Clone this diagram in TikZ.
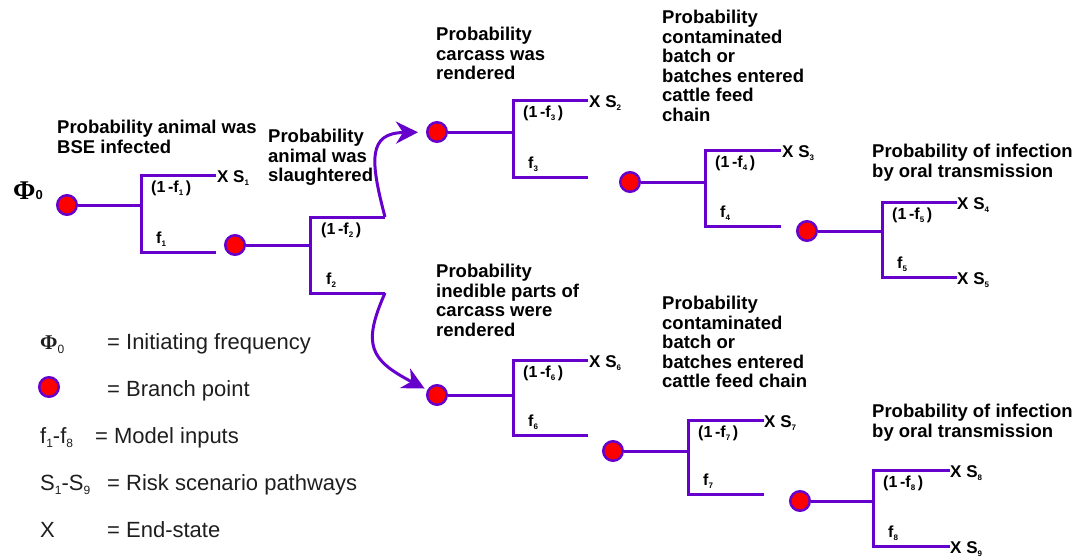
\documentclass[tikz,border=0pt]{standalone}
\usepackage{fontspec}
\setmainfont{Liberation Sans}
\newfontfamily\phifont{Liberation Serif}
\usetikzlibrary{arrows.meta}
\definecolor{branchline}{RGB}{102,0,204}
\definecolor{branchdot}{RGB}{255,0,0}
\definecolor{legendtext}{RGB}{30,30,30}

% small lowered index used in the branch labels
\newcommand{\lowidx}[2][8]{\raisebox{-0.22em}{\fontsize{#1}{#1}\selectfont #2}}

% one branching stage: dot, stem to the junction, upper and lower branch
% #1 name, #2/#3 dot position, #4 junction x, #5 upper y, #6 lower y, #7 branch end x
\newcommand{\stage}[7]{%
  \coordinate (#1-j)  at (#4,#3);
  \coordinate (#1-jt) at (#4,#5);
  \coordinate (#1-jb) at (#4,#6);
  \coordinate (#1-up) at (#7,#5);
  \coordinate (#1-lo) at (#7,#6);
  \node[bpoint] (#1) at (#2,#3) {};
  \draw[branch] (#1) -- (#1-j);
  \draw[branch] (#1-up) -- (#1-jt) -- (#1-jb) -- (#1-lo);
}

\begin{document}
\begin{tikzpicture}[x=1pt,y=-1pt,
  branch/.style={draw=branchline, line width=3pt, line join=miter, line cap=butt},
  bpoint/.style={circle, fill=branchdot, draw=branchline, line width=2.5pt,
                 minimum size=19.5pt, inner sep=0pt},
  problabel/.style={anchor=north west, align=left, inner sep=0pt,
                    font=\fontsize{18.5}{19.5}\selectfont\bfseries},
  ratio/.style={anchor=base west, inner sep=0pt, font=\fontsize{16}{16}\selectfont\bfseries},
  endlabel/.style={anchor=base west, inner sep=0pt, font=\fontsize{17}{17}\selectfont\bfseries},
  legend/.style={anchor=base west, inner sep=0pt, text=legendtext,
                 font=\fontsize{22}{22}\selectfont},
  flow/.style={draw=branchline, line width=3pt,
               -{Stealth[length=22pt,width=22pt,inset=7pt]}}]
\useasboundingbox (0,0) rectangle (1077,557);

% ---------- initiating frequency ----------
\node[anchor=base west, inner sep=0pt] (phi0) at (13,199)
  {{\phifont\bfseries\fontsize{27}{27}\selectfont Φ}{\bfseries\fontsize{13}{13}\selectfont 0}};

% ---------- branching stages ----------
\stage{s1}{67}{205}{141}{175}{252}{216}
\stage{s2}{235}{245}{310}{217}{293}{385}
\stage{s3}{437}{132}{513}{100}{177}{588}
\stage{s4}{630}{182}{705}{150}{226}{781}
\stage{s5}{807}{231}{882}{202}{277}{957}
\stage{s6}{437}{395}{513}{360}{435}{588}
\stage{s7}{613}{451}{688}{420}{494}{764}
\stage{s8}{800}{501}{873}{470}{546}{950}

% ---------- curved links from the slaughter stage ----------
\draw[flow, shorten >=8pt] (s2-up) .. controls (370,160) and (368,133) .. (s3);
\draw[flow, shorten >=3pt] (s2-lo) .. controls (362,345) and (370,360) .. (s6);

% ---------- branch ratios ----------
\node[ratio] (r1a) at (151,192) {(1\,-f\lowidx{1}\,)};
\node[ratio] (r1b) at (156,243) {f\lowidx{1}};
\node[ratio] (r2a) at (321,234) {(1\,-f\lowidx{2}\,)};
\node[ratio] (r2b) at (326,284) {f\lowidx{2}};
\node[ratio] (r3a) at (523,117) {(1\,-f\lowidx{3}\,)};
\node[ratio] (r3b) at (528,168) {f\lowidx{3}};
\node[ratio] (r4a) at (715,167) {(1\,-f\lowidx{4}\,)};
\node[ratio] (r4b) at (720,217) {f\lowidx{4}};
\node[ratio] (r5a) at (892,219) {(1\,-f\lowidx{5}\,)};
\node[ratio] (r5b) at (897,268) {f\lowidx{5}};
\node[ratio] (r6a) at (523,377) {(1\,-f\lowidx{6}\,)};
\node[ratio] (r6b) at (528,426) {f\lowidx{6}};
\node[ratio] (r7a) at (698,437) {(1\,-f\lowidx{7}\,)};
\node[ratio] (r7b) at (703,485) {f\lowidx{7}};
\node[ratio] (r8a) at (883,487) {(1\,-f\lowidx{8}\,)};
\node[ratio] (r8b) at (888,537) {f\lowidx{8}};

% ---------- end states ----------
\node[endlabel, xshift=1pt, yshift=-7pt] (x1) at (s1-up) {X S\lowidx{1}};
\node[endlabel, xshift=1pt, yshift=-7pt] (x2) at (s3-up) {X S\lowidx{2}};
\node[endlabel, xshift=1pt, yshift=-7pt] (x3) at (s4-up) {X S\lowidx{3}};
\node[endlabel, xshift=0pt, yshift=-7pt] (x4) at (s5-up) {X S\lowidx{4}};
\node[endlabel, xshift=0pt, yshift=-7pt] (x5) at (s5-lo) {X S\lowidx{5}};
\node[endlabel, xshift=1pt, yshift=-7pt] (x6) at (s6-up) {X S\lowidx{6}};
\node[endlabel, xshift=0pt, yshift=-7pt] (x7) at (s7-up) {X S\lowidx{7}};
\node[endlabel, xshift=0pt, yshift=-7pt] (x8) at (s8-up) {X S\lowidx{8}};
\node[endlabel, xshift=0pt, yshift=-7pt] (x9) at (s8-lo) {X S\lowidx{9}};

% ---------- stage descriptions ----------
\node[problabel] (p1) at (57,120) {Probability animal was\\BSE infected};
\node[problabel] (p2) at (268,129) {Probability\\animal was\\slaughtered};
\node[problabel] (p3) at (436,27) {Probability\\carcass was\\rendered};
\node[problabel] (p4) at (662,10) {Probability\\contaminated\\batch or\\batches entered\\cattle feed\\chain};
\node[problabel] (p5) at (872,144) {Probability of infection\\by oral transmission};
\node[problabel] (p6) at (436,264) {Probability\\inedible parts of\\carcass were\\rendered};
\node[problabel] (p7) at (662,296) {Probability\\contaminated\\batch or\\batches entered\\cattle feed chain};
\node[problabel] (p8) at (872,404) {Probability of infection\\by oral transmission};

% ---------- legend ----------
\node[legend] (k1) at (40,349)
  {{\phifont\bfseries\fontsize{21}{21}\selectfont Φ}\lowidx[12]{0}};
\node[legend] (k1t) at (107,349) {= Initiating frequency};
\node[bpoint] (k2) at (49,387) {};
\node[legend] (k2t) at (107,396) {= Branch point};
\node[legend] (k3) at (40,443) {f\lowidx[12]{1}-f\lowidx[12]{8}};
\node[legend] (k3t) at (95,443) {= Model inputs};
\node[legend] (k4) at (40,490) {S\lowidx[12]{1}-S\lowidx[12]{9}};
\node[legend] (k4t) at (107,490) {= Risk scenario pathways};
\node[legend] (k5) at (40,537) {X};
\node[legend] (k5t) at (107,537) {= End-state};
\end{tikzpicture}
\end{document}
